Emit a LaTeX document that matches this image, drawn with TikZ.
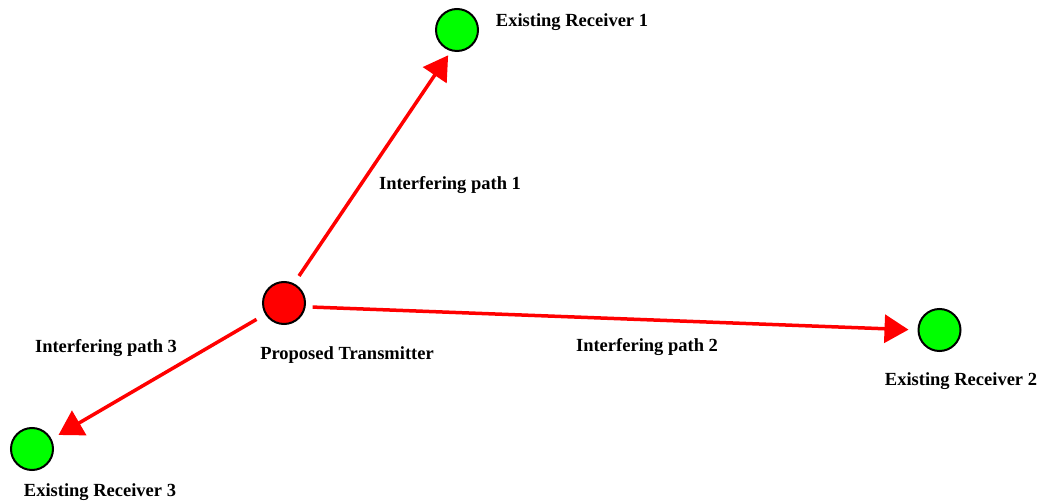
\documentclass[tikz,border=0pt]{standalone}
\usepackage{fontspec}
\setmainfont{Liberation Serif}
\usetikzlibrary{arrows.meta}
\begin{document}
\begin{tikzpicture}[x=1pt,y=-1pt,
  station/.style={circle,draw=black,line width=2pt,minimum size=42pt,inner sep=0pt},
  txstation/.style={station,fill=red},
  rxstation/.style={station,fill=green},
  lbl/.style={font=\fontsize{18.5}{20}\selectfont\bfseries,inner sep=0pt,anchor=center},
  path/.style={draw=red,line width=3.5pt,-{Triangle[length=24pt,width=28pt]}}]
\useasboundingbox (0,0) rectangle (1043,502);
\node[txstation] (tx) at (284,303) {};
\node[rxstation] (rx1) at (457,30) {};
\node[rxstation] (rx2) at (939.5,330) {};
\node[rxstation] (rx3) at (32,449) {};
\node[lbl] (ltx) at (347,355) {Proposed Transmitter};
\node[lbl] (lrx1) at (572,22) {Existing Receiver 1};
\node[lbl] (lrx2) at (961,381) {Existing Receiver 2};
\node[lbl] (lrx3) at (100,492) {Existing Receiver 3};
\node[lbl] (lp1) at (450,185) {Interfering path 1};
\node[lbl] (lp2) at (647,347) {Interfering path 2};
\node[lbl] (lp3) at (106,348) {Interfering path 3};
\draw[path,shorten <=9pt,shorten >=5pt] (tx.63) -- (rx1.-106);
\draw[path,shorten <=7pt,shorten >=9pt] (tx.-10) -- (rx2.west);
\draw[path,shorten <=10pt,shorten >=8pt] (tx.211) -- (rx3.27);
\end{tikzpicture}
\end{document}
